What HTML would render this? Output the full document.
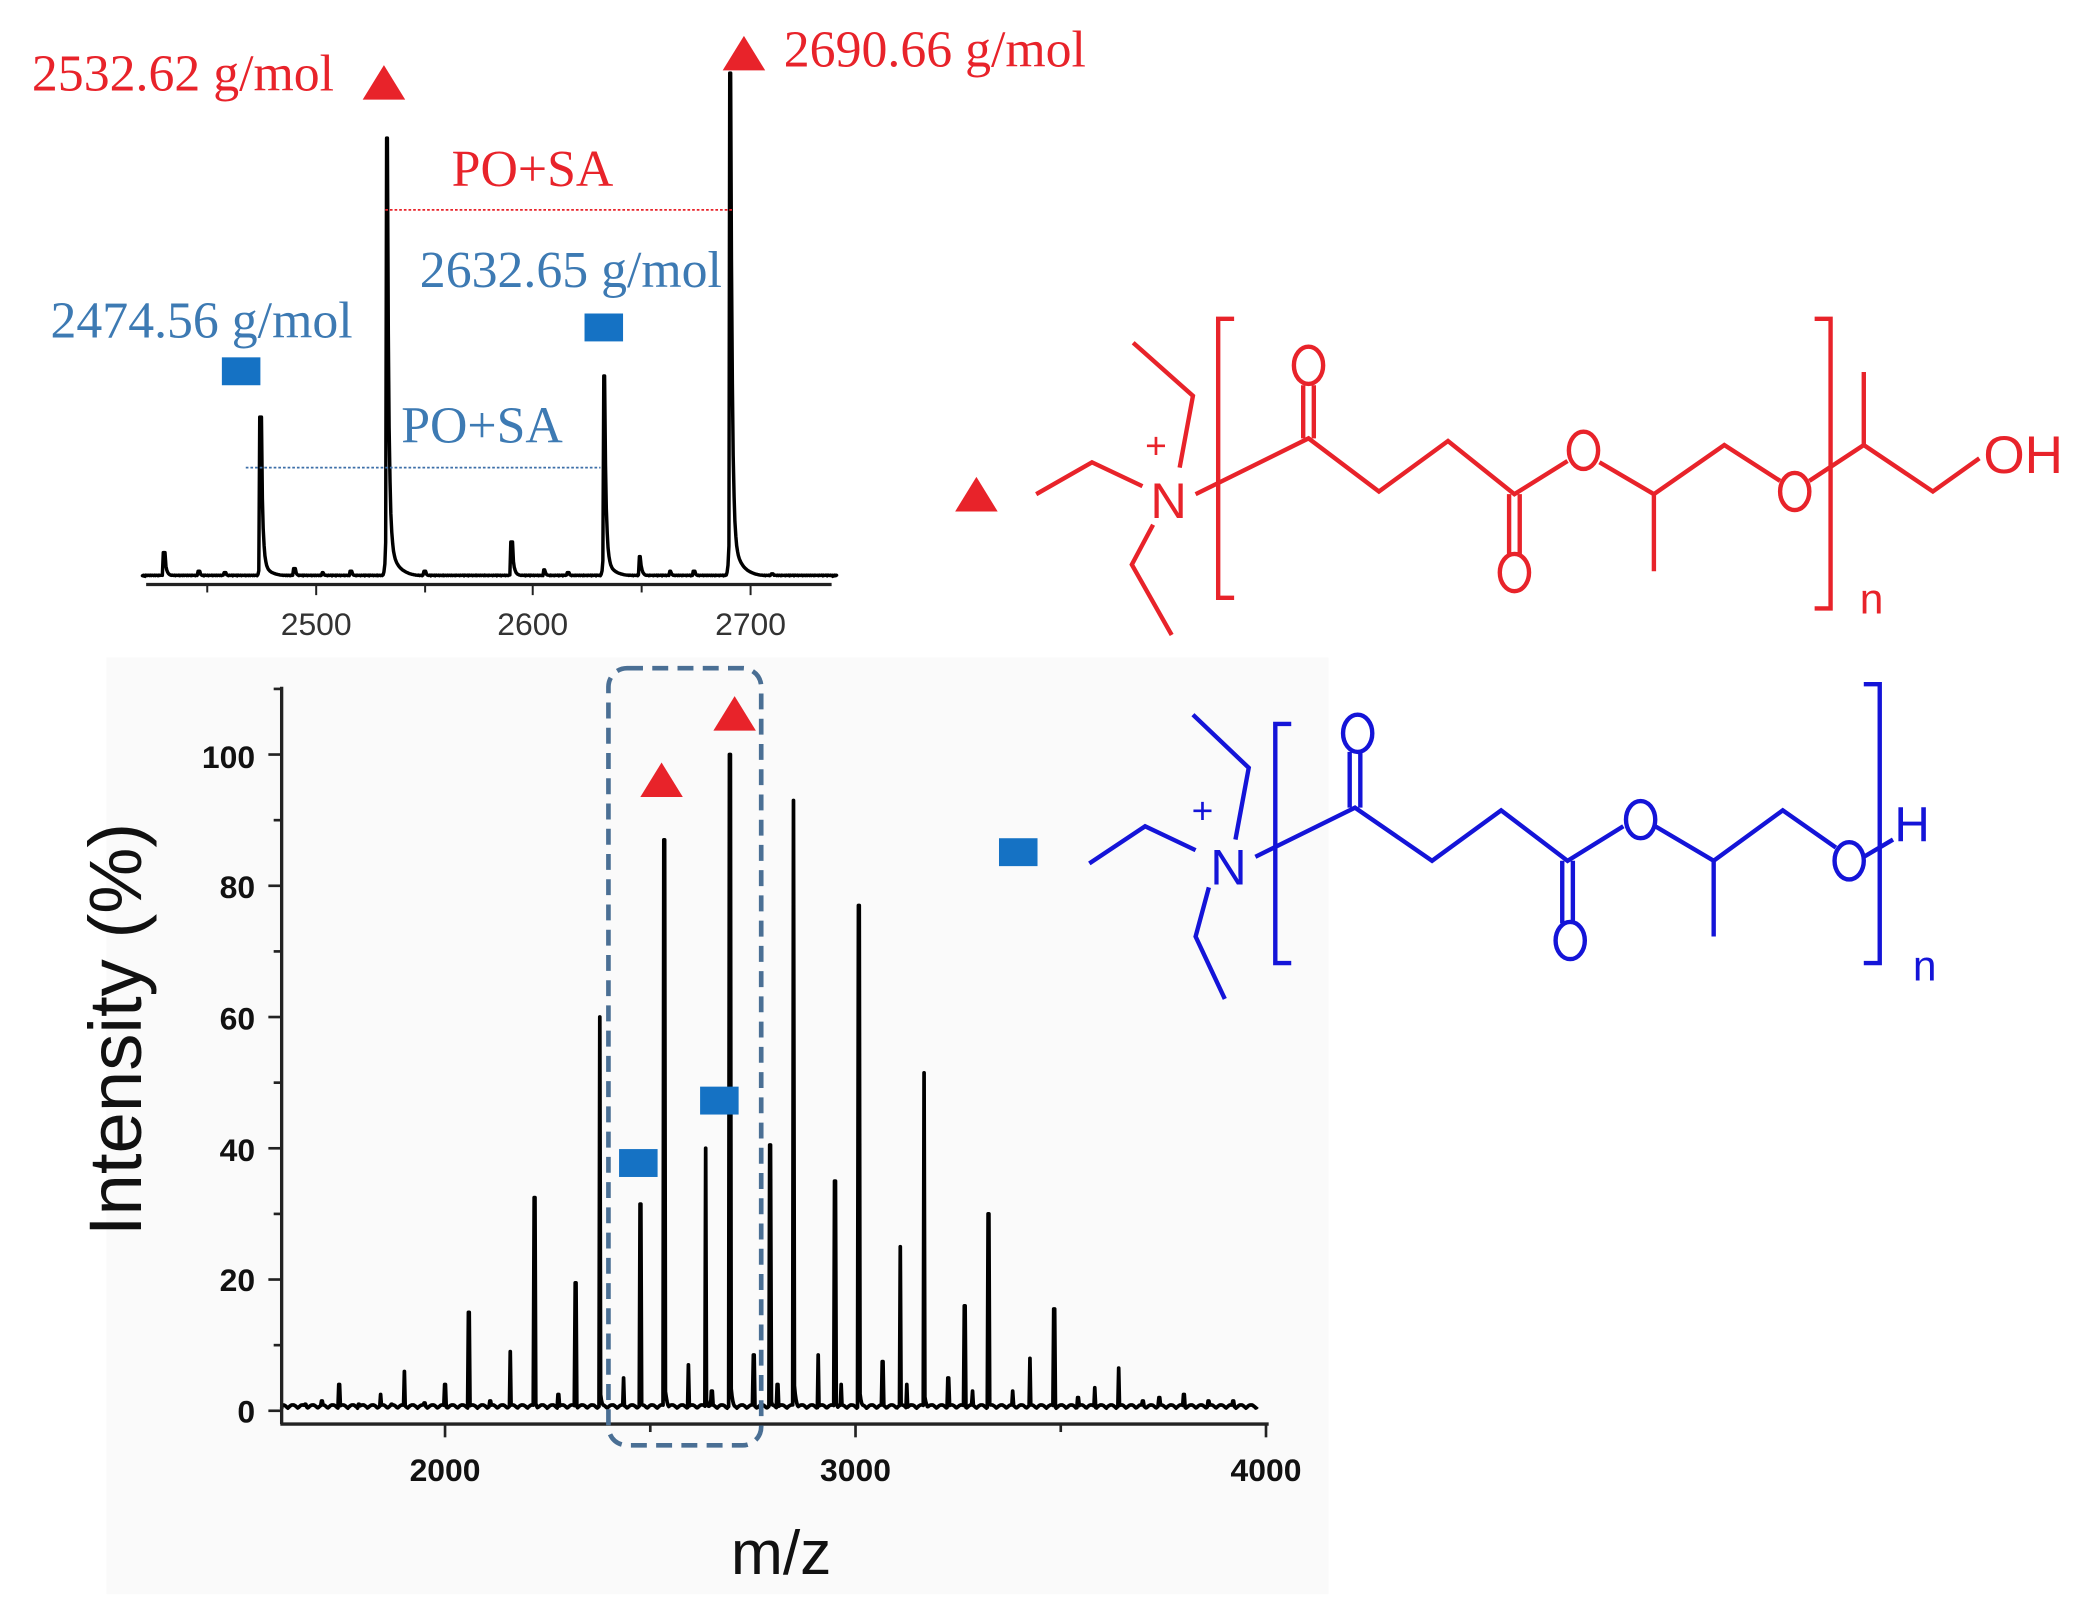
<!DOCTYPE html>
<html><head><meta charset="utf-8"><style>
html,body{margin:0;padding:0;background:#fff;width:2083px;height:1620px;overflow:hidden}
svg{display:block}
.ser{font-family:"Liberation Serif",serif}
.sans{font-family:"Liberation Sans",sans-serif}
</style></head><body>
<svg id="s" width="2083" height="1620" viewBox="0 0 1568 1219.5" xmlns="http://www.w3.org/2000/svg">
<rect x="0" y="0" width="1568" height="1220" fill="#fff"/>
<rect x="80" y="495" width="920" height="705" fill="#fafafa"/>
<g id="inset"></g>
<line x1="110" y1="440" x2="626" y2="440" stroke="#222" stroke-width="2.5"/>
<g stroke="#222" stroke-width="1.5">
<line x1="156" y1="440" x2="156" y2="446"/><line x1="238" y1="440" x2="238" y2="448"/><line x1="320" y1="440" x2="320" y2="446"/>
<line x1="401" y1="440" x2="401" y2="448"/><line x1="483" y1="440" x2="483" y2="446"/><line x1="565" y1="440" x2="565" y2="448"/>
</g>
<g class="sans" font-size="24" fill="#333" text-anchor="middle">
<text x="238" y="478">2500</text><text x="401" y="478">2600</text><text x="565" y="478">2700</text></g>
<line x1="290" y1="158" x2="552" y2="158" stroke="#e8232a" stroke-width="1.3" stroke-dasharray="2,1.5"/>
<line x1="185" y1="352" x2="452" y2="352" stroke="#3d6fa8" stroke-width="1.3" stroke-dasharray="2,1.5"/>
<g class="ser" font-size="39">
<text x="24" y="68" fill="#e8232a">2532.62 g/mol</text>
<text x="590" y="50" fill="#e8232a">2690.66 g/mol</text>
<text x="340" y="140" fill="#e8232a">PO+SA</text>
<text x="316" y="216" fill="#3d7ab3">2632.65 g/mol</text>
<text x="38" y="254" fill="#3d7ab3">2474.56 g/mol</text>
<text x="302" y="333" fill="#3d7ab3">PO+SA</text>
</g>
<polygon points="273,75 289,49 305,75" fill="#e8232a"/>
<polygon points="544,53 560,27 576,53" fill="#e8232a"/>
<rect x="167" y="269" width="29" height="21" fill="#1572c4"/>
<rect x="440" y="236" width="29" height="21" fill="#1572c4"/>
<g id="main"></g>
<line x1="212" y1="517" x2="212" y2="1072" stroke="#222" stroke-width="2.5"/>
<line x1="211" y1="1072" x2="955" y2="1072" stroke="#222" stroke-width="2.5"/>
<g id="ticks" stroke="#222" stroke-width="2"></g>
<g class="sans" font-size="24" font-weight="bold" fill="#111" text-anchor="end">
<text x="192" y="1071">0</text><text x="192" y="972">20</text><text x="192" y="874">40</text>
<text x="192" y="775">60</text><text x="192" y="676">80</text><text x="192" y="578">100</text></g>
<g class="sans" font-size="24" font-weight="bold" fill="#111" text-anchor="middle">
<text x="335" y="1115">2000</text><text x="644" y="1115">3000</text><text x="953" y="1115">4000</text></g>
<text class="sans" x="588" y="1185" font-size="47" text-anchor="middle" fill="#111">m/z</text>
<text class="sans" x="106" y="775" font-size="56" text-anchor="middle" fill="#111" transform="rotate(-90 106 775)">Intensity (%)</text>
<rect x="458" y="503" width="115" height="585" rx="14" fill="none" stroke="#4a6f94" stroke-width="3.5" stroke-dasharray="12,7"/>
<polygon points="482,600 498,574 514,600" fill="#e8232a"/>
<polygon points="537,550 553,524 569,550" fill="#e8232a"/>
<rect x="466" y="865" width="29" height="21" fill="#1572c4"/>
<rect x="527" y="818" width="29" height="21" fill="#1572c4"/>
<rect x="752" y="631" width="29" height="21" fill="#1572c4"/>
<polygon points="719,385 735,359 751,385" fill="#e8232a"/>
<g stroke="#e8232a" stroke-width="3.3" fill="none">
<polyline points="780,372 822,348 860,366"/>
<polyline points="853,258 898,298 888,352"/>
<polyline points="868,395 852,425 882,478"/>
<polyline points="929,240 917,240 917,450 929,450"/>
<polyline points="1366,240 1378,240 1378,458 1366,458"/>
<polyline points="900,372 985,330 1038,370 1090,332 1140,372 1180,347"/>
<line x1="981" y1="330" x2="981" y2="290"/><line x1="989" y1="330" x2="989" y2="290"/>
<line x1="1136" y1="372" x2="1136" y2="418"/><line x1="1144" y1="372" x2="1144" y2="418"/>
<polyline points="1204,348 1245,372 1298,335 1340,362"/>
<line x1="1245" y1="372" x2="1245" y2="430"/>
<polyline points="1362,362 1403,335 1455,370 1490,345"/>
<line x1="1403" y1="335" x2="1403" y2="280"/>
<ellipse cx="985" cy="275" rx="11" ry="14"/><ellipse cx="1140" cy="431" rx="11" ry="14"/>
<ellipse cx="1192" cy="339" rx="11" ry="14"/><ellipse cx="1351" cy="370" rx="11" ry="14"/>
</g>
<g class="sans" fill="#e8232a">
<text x="866" y="390" font-size="38">N</text><text x="862" y="345" font-size="28">+</text>
<text x="1493" y="356" font-size="40">OH</text><text x="1400" y="462" font-size="32">n</text></g>
<g stroke="#1414d8" stroke-width="3.3" fill="none">
<polyline points="820,650 862,622 900,640"/>
<polyline points="898,538 940,578 930,632"/>
<polyline points="910,668 900,705 922,752"/>
<polyline points="972,545 960,545 960,725 972,725"/>
<polyline points="1403,515 1415,515 1415,725 1403,725"/>
<polyline points="945,645 1020,608 1078,648 1130,610 1180,648 1222,622"/>
<line x1="1016" y1="608" x2="1016" y2="566"/><line x1="1024" y1="608" x2="1024" y2="566"/>
<line x1="1176" y1="648" x2="1176" y2="695"/><line x1="1184" y1="648" x2="1184" y2="695"/>
<polyline points="1246,622 1290,648 1342,610 1382,638"/>
<line x1="1290" y1="648" x2="1290" y2="705"/>
<line x1="1403" y1="645" x2="1425" y2="632"/>
<ellipse cx="1022" cy="552" rx="11" ry="14"/><ellipse cx="1182" cy="708" rx="11" ry="14"/>
<ellipse cx="1235" cy="617" rx="11" ry="14"/><ellipse cx="1392" cy="648" rx="11" ry="14"/>
</g>
<g class="sans" fill="#1414d8">
<text x="911" y="666" font-size="38">N</text><text x="897" y="620" font-size="28">+</text>
<text x="1426" y="633" font-size="37">H</text><text x="1440" y="738" font-size="32">n</text></g>
</svg>
<script>
var NS="http://www.w3.org/2000/svg";
function el(p,tag,a){var e=document.createElementNS(NS,tag);for(var k in a)e.setAttribute(k,a[k]);p.appendChild(e);return e;}
var pk=[[1660,1],[1700,1.5],[1742,4],[1790,1],[1843,2.5],[1870,1],[1901,6],[1950,1.2],[2000,4],[2058,15],[2110,1.5],[2159,9],[2218,32.5],[2276,2.5],[2318,19.5],[2377,60],[2435,5],[2476,31.5],[2534,87],[2593,7],[2635,40],[2650,3],[2694,100],[2752,8.5],[2792,40.5],[2810,4],[2849,93],[2909,8.5],[2950,35],[2965,4],[3008,77],[3066,7.5],[3109,25],[3125,4],[3167,51.5],[3226,5],[3266,16],[3285,3],[3324,30],[3383,3],[3425,8],[3484,15.5],[3542,2],[3583,3.5],[3641,6.5],[3700,1.5],[3740,2],[3800,2.5],[3860,1.5],[3920,1.5]];
function X(m){return 335+(m-2000)*0.309;}
function Y(i){return 1062-i*4.94;}
var d="M212 "+Y(0.3);
for(var m=1603;m<=3980;m+=2){var v=0.4+0.5*Math.abs(Math.sin(m*1.7));for(var j=0;j<pk.length;j++){var dm=m-pk[j][0];if(dm>=-1&&dm<=1)v=Math.max(v,pk[j][1]);else if(dm>1&&dm<14)v=Math.max(v,pk[j][1]*0.05*Math.exp(-(dm-1)/5));}
d+=" L"+X(m).toFixed(1)+" "+Y(v).toFixed(1);}
el(document.getElementById("main"),"path",{d:d,fill:"none",stroke:"#000","stroke-width":2.8,"stroke-linejoin":"round"});
var t=document.getElementById("ticks");
for(var v=0;v<=110;v+=10){var y=Y(v);el(t,"line",{x1:v%20==0?202:206,y1:y,x2:212,y2:y});}
for(var m=2000;m<=4000;m+=500){var x=X(m);el(t,"line",{x1:x,y1:1072,x2:x,y2:m%1000==0?1082:1078});}
function XI(m){return 238+(m-2500)*1.635;}
var base=434;
var ip=[[2430,18],[2446,4],[2458,3],[2474.5,120],[2490,6],[2503,3],[2516,4],[2532.6,330],[2550,4],[2590,26],[2605,5],[2616,3],[2632.6,151],[2649,15],[2663,4],[2674,4],[2690.7,379],[2710,2]];
var d2="M110 "+base;
for(var m=2420;m<=2740;m+=0.4){var h=0.5+0.6*Math.abs(Math.sin(m*3.1));for(var j=0;j<ip.length;j++){var dm=m-ip[j][0];var H=ip[j][1];
if(Math.abs(dm)<=0.5)h=Math.max(h,H);else if(dm>0.5&&dm<30)h=Math.max(h,H*(0.55*Math.exp(-(dm-0.5)/0.7)+0.08*Math.exp(-(dm-0.5)/4)));else if(dm<-0.5&&dm>-2)h=Math.max(h,H*0.1*Math.exp((dm+0.5)/0.4));}
d2+=" L"+XI(m).toFixed(1)+" "+(base-h).toFixed(1);}
d2+=" L626 "+base;
el(document.getElementById("inset"),"path",{d:d2,fill:"none",stroke:"#000","stroke-width":2.6,"stroke-linejoin":"round"});
</script>
</body></html>
